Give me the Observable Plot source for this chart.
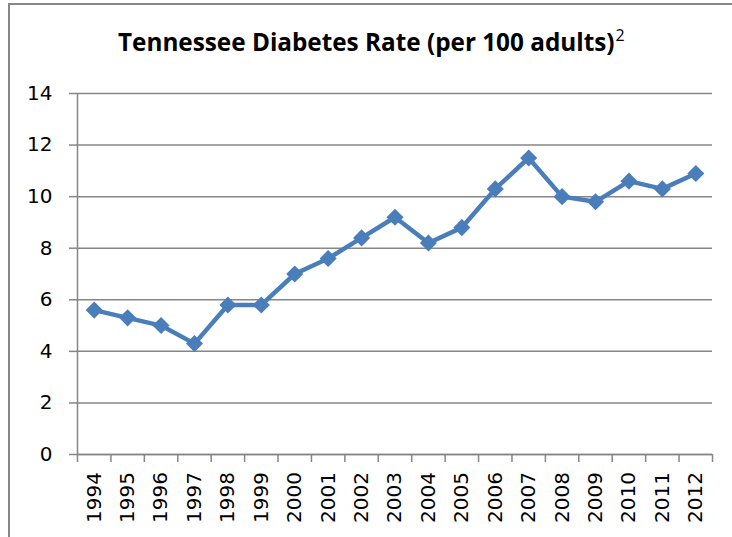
<!DOCTYPE html>
<html>
<head>
<meta charset="utf-8">
<script src="https://cdn.jsdelivr.net/npm/d3@7"></script>
<script src="https://cdn.jsdelivr.net/npm/@observablehq/plot@0.6"></script>
<style>
  html, body { margin: 0; padding: 0; background: #fff; overflow: hidden; }
  #wrap { position: relative; width: 732px; height: 537px; overflow: hidden; }
  #frame { position: absolute; left: 8px; top: 3px; width: 900px; height: 700px;
           border: 2px solid #868686; box-sizing: border-box; }
  #title { position: absolute; left: 118px; top: 30px; font-family: "Open Sans", Lato, sans-serif;
           font-weight: 700; font-size: 24.3px; color: #000; white-space: nowrap; line-height: 1; }
  #title sup { font-weight: 400; font-size: 16px; vertical-align: 0; position: relative; top: -10px; margin-left: 1px; }
  #chart { position: absolute; left: 0; top: 0; width: 732px; height: 537px; }
  #chart svg { width: 732px; height: 537px; max-width: none; }
  #chart svg text { font-family: "DejaVu Sans", sans-serif !important; font-size: 20px !important; }
</style>
</head>
<body>
<div id="wrap">
  <div id="frame"></div>
  <div id="chart"></div>
  <div id="title">Tennessee Diabetes Rate (per 100 adults)<sup>2</sup></div>
</div>
<script>
const years = [1994, 1995, 1996, 1997, 1998, 1999, 2000, 2001, 2002, 2003, 2004, 2005, 2006, 2007, 2008, 2009, 2010, 2011, 2012];
const rates = [5.6, 5.3, 5.0, 4.3, 5.8, 5.8, 7.0, 7.6, 8.4, 9.2, 8.2, 8.8, 10.3, 11.5, 10.0, 9.8, 10.6, 10.3, 10.9];
const yTicks = [0, 2, 4, 6, 8, 10, 12, 14];

const data = years.map((year, i) => ({year, rate: rates[i]}));
const boundaries = years.map(y => y - 0.5).concat([years[years.length - 1] + 0.5]);
const gray = "#868686";
const blue = "#4a7ebb";

const chart = Plot.plot({
  width: 732,
  height: 537,
  marginLeft: 77,
  marginRight: 20,
  marginTop: 93,
  marginBottom: 83,
  style: {fontFamily: "DejaVu Sans, sans-serif", fontSize: "20px", color: "#000", background: "transparent", overflow: "visible"},
  x: {type: "linear", domain: [boundaries[0], boundaries[boundaries.length - 1]]},
  y: {domain: [yTicks[0], yTicks[yTicks.length - 1]]},
  marks: [
    Plot.gridY(yTicks, {stroke: gray, strokeOpacity: 1, strokeWidth: 1.5}),
    Plot.ruleX(boundaries.slice(0, 1), {y1: yTicks[0], y2: yTicks[yTicks.length - 1], stroke: gray, strokeWidth: 1.5}),
    Plot.ruleY(yTicks.slice(0, 1), {stroke: gray, strokeWidth: 1.5}),
    Plot.axisY(yTicks, {tickSize: 8, tickPadding: 17, fontSize: 20, stroke: gray, strokeWidth: 1.5, fill: "#000", label: null, tickFormat: d => String(d)}),
    Plot.axisX(boundaries, {tickSize: 8, stroke: gray, strokeWidth: 1.5, tickFormat: () => "", label: null}),
    Plot.axisX(years, {tickSize: 0, tickPadding: 17.5, tickRotate: -90, fontSize: 20, fill: "#000", label: null, tickFormat: d => String(d)}),
    Plot.line(data, {x: "year", y: "rate", stroke: blue, strokeWidth: 4.5}),
    Plot.dot(data, {x: "year", y: "rate", symbol: "diamond2", r: 7.7, fill: blue, stroke: "none"})
  ]
});
document.getElementById("chart").appendChild(chart);
</script>
</body>
</html>
